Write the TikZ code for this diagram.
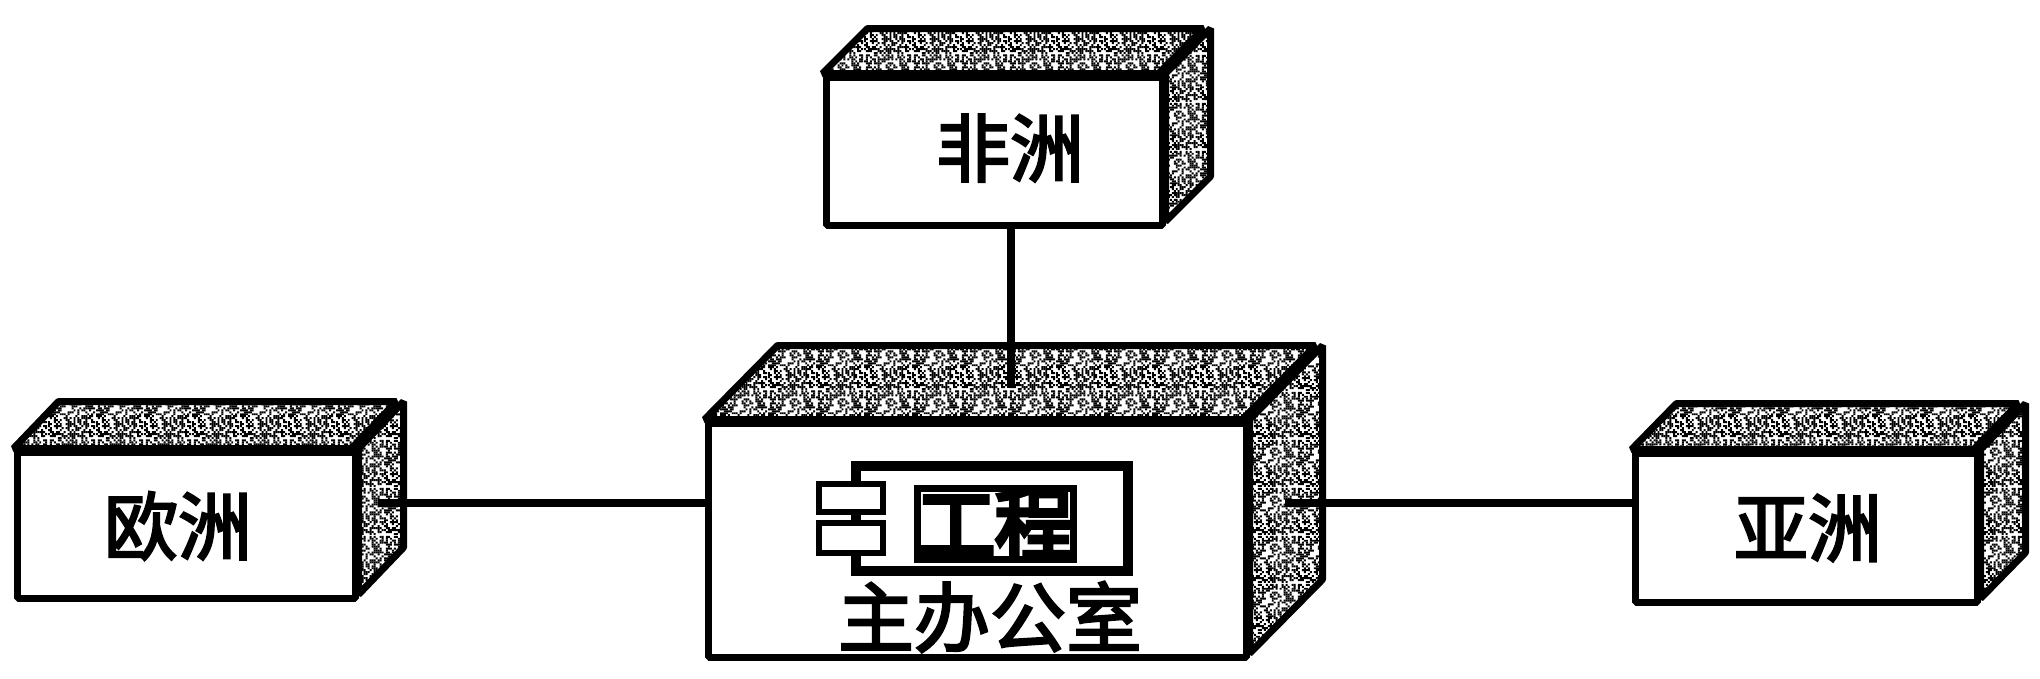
\documentclass[tikz,border=0pt]{standalone}
\usepackage{fontspec}
\newfontfamily\cjk[FakeBold=3]{Noto Sans CJK SC}
\newfontfamily\cjkheavy[FakeBold=6]{Noto Sans CJK SC}
\usetikzlibrary{patterns}
\pgfdeclarepatternformonly{grain}{\pgfqpoint{0pt}{0pt}}{\pgfqpoint{48pt}{48pt}}{\pgfqpoint{48pt}{48pt}}{
	\pgfmathsetseed{11}
	\foreach \i in {0,2,...,46}{
		\foreach \j in {0,2,...,46}{
			\pgfmathparse{rnd<0.48 ? 1 : 0}
			\ifnum\pgfmathresult=1
				\pgfpathrectangle{\pgfqpoint{\i pt}{\j pt}}{\pgfqpoint{2pt}{2pt}}
				\pgfusepath{fill}
			\fi
		}
	}
}
\tikzset{
	crateface/.style = {draw=black, line width=7, line join=bevel, fill=white},
	crateshade/.style = {draw=black, line width=7, line join=bevel, pattern=grain, pattern color=black},
	cratelabel/.style = {inner sep=0, font=\cjk\fontsize{74}{74}\selectfont},
	link/.style = {line width=8, black},
}
% name, left, top, right, bottom, depth x, depth y
\newcommand{\crate}[7]{
	\node[crateface, inner sep=0, minimum width={#4-#2}, minimum height={#5-#3}] (#1) at ({(#2+#4)/2},{(#3+#5)/2}) {};
	\path[crateshade] (#1.north west) -- ++(#6,-#7) -- ++({#4-#2},0) -- ++(-#6,#7) -- cycle;
	\path[crateshade] (#1.north east) -- ++(#6,-#7) -- ++(0,{#5-#3}) -- ++(-#6,#7) -- cycle;
}

\begin{document}
\begin{tikzpicture}[x=1pt, y=-1pt]
	\useasboundingbox (0,0) rectangle (2040,678);

	% Boxes
	\crate{africa}{826}{77}{1162}{225}{45}{45}
	\crate{office}{708}{423}{1246}{657}{73}{74}
	\crate{europe}{17}{452}{355}{598}{45}{47}
	\crate{asia}{1635}{453}{1977}{602}{45}{46}

	% Labels
	\node[cratelabel] (africalabel) at (1010,148) {非洲};
	\node[cratelabel] (europelabel) at (178,526) {欧洲};
	\node[cratelabel] (asialabel) at (1808,528) {亚洲};
	\node[cratelabel, font=\cjk\fontsize{76}{76}\selectfont] (officelabel) at (990,617) {主办公室};

	% Component
	\node[draw=black, line width=10, fill=white, inner sep=0, minimum width=272, minimum height=105] (project) at (992,518) {};
	\node[draw=black, line width=6, fill=white, inner sep=0, minimum width=64, minimum height=28] (portup) at (851,498) {};
	\node[draw=black, line width=6, fill=white, inner sep=0, minimum width=64, minimum height=30] (portdown) at (851,538) {};
	\node[draw=black, line width=7, inner sep=3, cratelabel, font=\cjkheavy\fontsize{78}{78}\selectfont] (projectlabel) at (995,524) {工程};

	% Links
	\coordinate (officetop) at (1011,388);
	\coordinate (officeside) at (1285,503);
	\coordinate (europeside) at (378,503);
	\draw[link] (africa.south -| officetop) -- (officetop);
	\draw[link] (europeside) -- (office.west |- europeside);
	\draw[link] (officeside) -- (asia.west |- officeside);
\end{tikzpicture}
\end{document}
